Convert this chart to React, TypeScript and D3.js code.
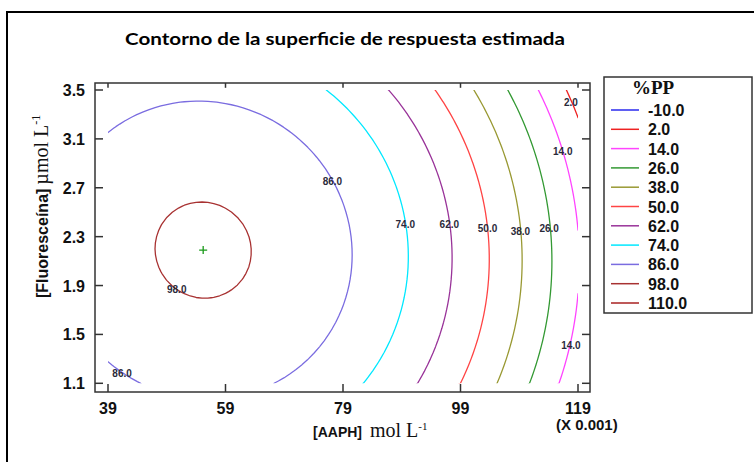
import React, { useMemo } from "react";
import * as d3 from "d3";

// Contour levels of %PP and their line colours
const LEVELS = [-10, 2, 14, 26, 38, 50, 62, 74, 86, 98, 110];
const LEVEL_COLORS = [
  "#2a2aee",
  "#ee2222",
  "#ff44ff",
  "#339933",
  "#999933",
  "#ff4444",
  "#993399",
  "#00e8ff",
  "#7a6ce0",
  "#a83232",
  "#a82222",
];

// Axis ticks
const X_TICKS = [39, 59, 79, 99, 119];
const Y_TICKS = [1.1, 1.5, 1.9, 2.3, 2.7, 3.1, 3.5];

// Experimental region (AAPH ×0.001 mol/L, fluoresceína µmol/L)
const AAPH_RANGE = [39, 119];
const FL_RANGE = [1.1, 3.5];

// Fitted second-order response surface, written around its stationary point
const OPTIMUM = [55.2, 2.19];
const PEAK_PP = 99.4;
const QUAD_COEFS = [-0.02085, -9.02, -0.0274]; // AAPH², Fl², AAPH·Fl

// In-plot contour labels
const LABEL_AAPH = [117.8, 116.4, 117.8, 114.1, 109.2, 103.6, 97.1, 89.6, 77.2, 50.7, 41.4];
const LABEL_FL = [3.4, 3.0, 1.41, 2.37, 2.34, 2.37, 2.4, 2.4, 2.75, 1.87, 1.18];
const LABEL_LEVEL = [2, 14, 14, 26, 38, 50, 62, 74, 86, 98, 86];

const W = 754;
const H = 462;
const BOX = { left: 95, right: 590, top: 83, bottom: 392 };
const NX = 81;
const NY = 49;

const ARIAL = "Arial, 'Liberation Sans', Helvetica, sans-serif";
const TIMES = "'Times New Roman', 'Liberation Serif', Times, serif";

function surface(a: number, f: number): number {
  const da = a - OPTIMUM[0];
  const df = f - OPTIMUM[1];
  return PEAK_PP + QUAD_COEFS[0] * da * da + QUAD_COEFS[1] * df * df + QUAD_COEFS[2] * da * df;
}

export default function App() {
  const x = d3.scaleLinear().domain(AAPH_RANGE).range([108, 578]);
  const y = d3.scaleLinear().domain(FL_RANGE).range([383.3, 90]);

  const sx = (AAPH_RANGE[1] - AAPH_RANGE[0]) / (NX - 1);
  const sy = (FL_RANGE[1] - FL_RANGE[0]) / (NY - 1);

  const contours = useMemo(() => {
    const values: number[] = new Array(NX * NY);
    for (let j = 0; j < NY; j++) {
      for (let i = 0; i < NX; i++) {
        values[j * NX + i] = surface(AAPH_RANGE[0] + i * sx, FL_RANGE[0] + j * sy);
      }
    }
    return d3.contours().size([NX, NY]).thresholds(LEVELS)(values);
  }, []);

  const toScreen = d3.geoTransform({
    point(px: number, py: number) {
      (this as any).stream.point(
        x(AAPH_RANGE[0] + (px - 0.5) * sx),
        y(FL_RANGE[0] + (py - 0.5) * sy)
      );
    },
  });
  const path = d3.geoPath(toScreen);

  const colorOf = (v: number) => LEVEL_COLORS[LEVELS.indexOf(v)];
  const tick = 8;

  return (
    <svg
      width={W}
      height={H}
      viewBox={`0 0 ${W} ${H}`}
      style={{ position: "absolute", left: 0, top: 0, background: "#fff" }}
    >
      <defs>
        <clipPath id="region">
          <rect
            x={x(AAPH_RANGE[0])}
            y={y(FL_RANGE[1])}
            width={x(AAPH_RANGE[1]) - x(AAPH_RANGE[0])}
            height={y(FL_RANGE[0]) - y(FL_RANGE[1])}
          />
        </clipPath>
      </defs>

      {/* outer frame */}
      <line x1={7} y1={11} x2={7} y2={H} stroke="#000" strokeWidth={2} />
      <line x1={6} y1={12} x2={W} y2={12} stroke="#000" strokeWidth={2} />

      {/* title */}
      <text
        x={125}
        y={45}
        fontFamily="Lato, 'Open Sans', sans-serif"
        fontWeight={700}
        fontSize={17}
        textLength={440}
        lengthAdjust="spacingAndGlyphs"
        fill="#000"
      >
        Contorno de la superficie de respuesta estimada
      </text>

      {/* contour lines */}
      <g clipPath="url(#region)" fill="none" strokeWidth={1.3} strokeLinejoin="round">
        {contours.map((c) => (
          <path key={c.value} d={path(c as any) || ""} stroke={colorOf(c.value)} />
        ))}
      </g>

      {/* contour labels */}
      <g fontFamily={ARIAL} fontWeight={700} fontSize={10} fill="#2a2a3a" textAnchor="middle">
        {LABEL_LEVEL.map((v, i) => (
          <text key={i} x={x(LABEL_AAPH[i])} y={y(LABEL_FL[i]) + 3.5}>
            {v.toFixed(1)}
          </text>
        ))}
      </g>

      {/* stationary point */}
      <path
        d="M-4,0H4M0,-4V4"
        transform={`translate(${x(OPTIMUM[0])},${y(OPTIMUM[1])})`}
        stroke="#1a9a1a"
        strokeWidth={1.3}
      />

      {/* plot box and ticks */}
      <rect
        x={BOX.left}
        y={BOX.top}
        width={BOX.right - BOX.left}
        height={BOX.bottom - BOX.top}
        fill="none"
        stroke="#333"
        strokeWidth={1.5}
      />
      <g stroke="#333" strokeWidth={1.5}>
        {X_TICKS.map((t) => (
          <g key={`xt${t}`}>
            <line x1={x(t)} x2={x(t)} y1={BOX.bottom} y2={BOX.bottom - tick} />
            <line x1={x(t)} x2={x(t)} y1={BOX.top} y2={BOX.top + tick * 0.6} />
          </g>
        ))}
        {Y_TICKS.map((t) => (
          <g key={`yt${t}`}>
            <line x1={BOX.left} x2={BOX.left + tick} y1={y(t)} y2={y(t)} />
            <line x1={BOX.right} x2={BOX.right - tick} y1={y(t)} y2={y(t)} />
          </g>
        ))}
      </g>

      {/* tick labels */}
      <g fontFamily={ARIAL} fontWeight={700} fontSize={16} fill="#111">
        {X_TICKS.map((t) => (
          <text key={`xl${t}`} x={x(t)} y={414} textAnchor="middle">
            {t}
          </text>
        ))}
        {Y_TICKS.map((t) => (
          <text key={`yl${t}`} x={85} y={y(t) + 6} textAnchor="end">
            {t.toFixed(1)}
          </text>
        ))}
        <text x={556} y={430} fontSize={15}>
          (X 0.001)
        </text>
      </g>

      {/* axis titles */}
      <text x={313} y={437} fill="#111">
        <tspan fontFamily={ARIAL} fontWeight={700} fontSize={14}>
          [AAPH]
        </tspan>
        <tspan fontFamily={TIMES} fontSize={20} dx={8}>
          mol L
        </tspan>
        <tspan fontFamily={TIMES} fontSize={11} dy={-7}>
          -1
        </tspan>
      </text>
      <text transform="translate(48,298) rotate(-90)" fill="#111">
        <tspan fontFamily={ARIAL} fontWeight={700} fontSize={16}>
          [Fluoresceína]
        </tspan>
        <tspan fontFamily={TIMES} fontSize={20} dx={4}>
          µmol L
        </tspan>
        <tspan fontFamily={TIMES} fontSize={12} dy={-8}>
          -1
        </tspan>
      </text>

      {/* legend */}
      <rect x={604} y={77} width={148} height={236} fill="#fff" stroke="#333" strokeWidth={1.5} />
      <text
        x={653}
        y={94}
        textAnchor="middle"
        fontFamily={TIMES}
        fontWeight={700}
        fontSize={19}
        fill="#111"
      >
        %PP
      </text>
      {LEVELS.map((v, i) => {
        const ly = 110 + i * 19.3;
        return (
          <g key={`lg${v}`}>
            <line x1={611} x2={639} y1={ly} y2={ly} stroke={LEVEL_COLORS[i]} strokeWidth={1.5} />
            <text
              x={648}
              y={ly + 6}
              fontFamily={ARIAL}
              fontWeight={700}
              fontSize={16}
              fill="#111"
            >
              {v.toFixed(1)}
            </text>
          </g>
        );
      })}
    </svg>
  );
}
